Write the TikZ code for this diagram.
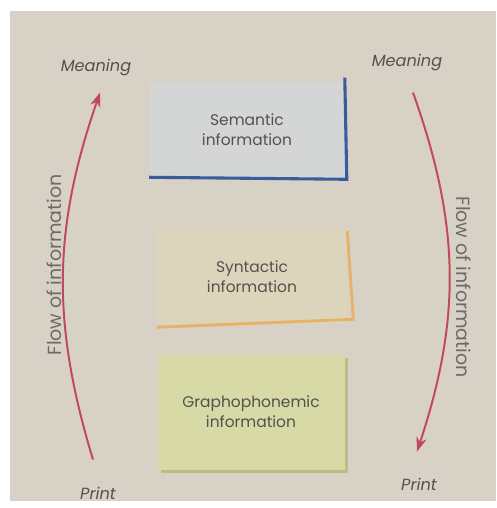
\documentclass[tikz,border=0pt]{standalone}
\usepackage{fontspec}
\setmainfont{Poppins}
\usetikzlibrary{arrows.meta,positioning,shadows}
\definecolor{paper}{HTML}{D8D1C6}
\definecolor{flowc}{HTML}{C04A5C}
\definecolor{inkc}{HTML}{55514B}
\definecolor{semfill}{HTML}{D4D6D6}
\definecolor{semline}{HTML}{3B5C9C}
\definecolor{synfill}{HTML}{DDD5BB}
\definecolor{synline}{HTML}{E6B265}
\definecolor{grafill}{HTML}{D7DAA6}
\definecolor{grashade}{HTML}{B9BD86}
\tikzset{
  flow/.style={-{Stealth[length=3.6mm,width=2.6mm]},line width=1.4pt,flowc},
  endlbl/.style={font=\itshape\fontsize{11.5}{13}\selectfont,text=inkc,inner sep=0pt},
  sidelbl/.style={font=\fontsize{13.5}{15}\selectfont,text=inkc!85,inner sep=0pt},
  infobox/.style={align=center,font=\fontsize{11}{14}\selectfont,text=inkc,inner sep=0pt}
}
\begin{document}
\begin{tikzpicture}[x=0.25mm,y=-0.25mm]
\fill[white] (0,0) rectangle (496,508);
\fill[paper] (10,11) rectangle (496,501);
\useasboundingbox (0,0) rectangle (496,508);
% the three layers
\node[infobox,fill=semfill,minimum width=48.75mm,minimum height=24mm] (sem) at (247,130) {Semantic\\information};
\draw[semline,line width=2.2pt] ([shift={(0,-4)}]sem.north east) -- ([shift={(2,1)}]sem.south east) -- ([shift={(0,-1)}]sem.south west);
\node[infobox,fill=synfill,minimum width=47.5mm,minimum height=23.5mm] (syn) at (252,277) {Syntactic\\information};
\draw[synline,line width=2pt] ([shift={(0,1)}]syn.north east) -- ([shift={(6,-5)}]syn.south east) -- ([shift={(0,3)}]syn.south west);
\node[infobox,fill=grafill,minimum width=46.75mm,minimum height=28.75mm,
  drop shadow={shadow xshift=0.8mm,shadow yshift=-0.8mm,fill=grashade,opacity=1}] (gra) at (251,412) {Graphophonemic\\information};
% ends of the flow
\node[endlbl] (meanL) at (96,68) {Meaning};
\node[endlbl] (printL) at (98,493) {Print};
\node[endlbl] (meanR) at (407,63) {Meaning};
\node[endlbl] (printR) at (419,484) {Print};
\draw[flow] ([shift={(-5,-27)}]printL.north) to[bend left=18] ([shift={(4,16)}]meanL.south);
\draw[flow] ([shift={(6,21)}]meanR.south) to[bend left=19] ([shift={(-2,-26)}]printR.north);
\node[sidelbl,rotate=90] (flowL) at (54,265) {Flow of information};
\node[sidelbl,rotate=-90] (flowR) at (464,287) {Flow of information};
\end{tikzpicture}
\end{document}
